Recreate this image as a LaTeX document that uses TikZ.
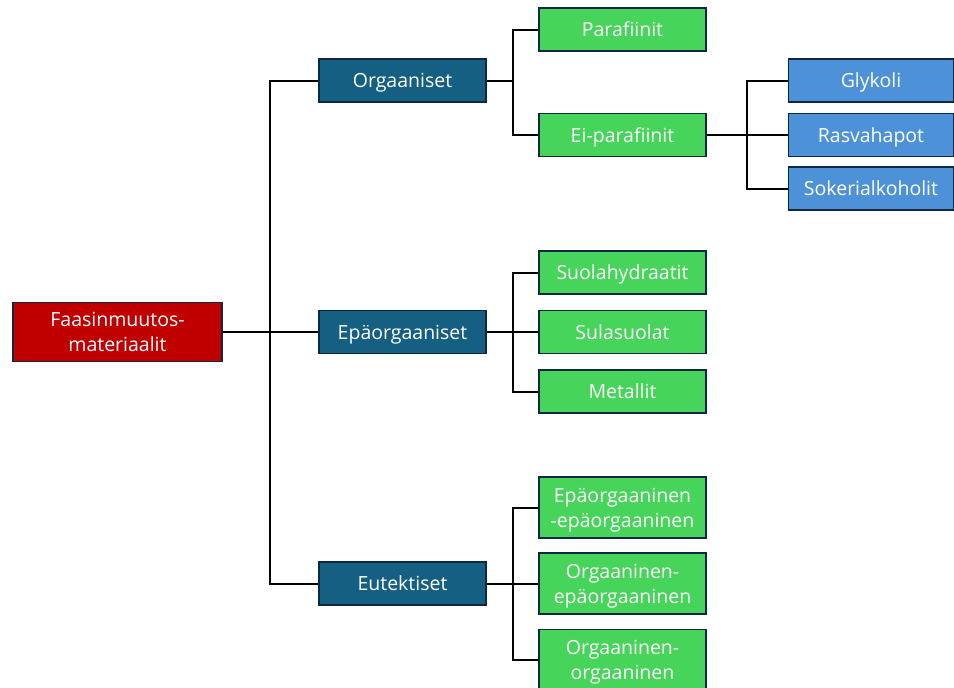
\documentclass[tikz,border=0pt]{standalone}
\usepackage{fontspec}
\setmainfont{Open Sans}
\definecolor{rootred}{HTML}{C00000}
\definecolor{teal1}{HTML}{156082}
\definecolor{green1}{HTML}{47D45A}
\definecolor{blue1}{HTML}{4D91D8}
\definecolor{edge1}{HTML}{0E2841}
\newcommand{\boxtxt}[1]{\raisebox{-2pt}[\height][\depth]{\begin{tabular}{@{}c@{}}#1\end{tabular}}}
\tikzset{
  box/.style={draw=edge1, line width=1.6pt, text=white, inner sep=0pt,
    font=\fontsize{19.5}{25}\selectfont},
  rootbox/.style={box, fill=rootred, minimum width=209pt, minimum height=59pt},
  lvone/.style={box, fill=teal1, minimum width=167pt, minimum height=43pt},
  lvtwo/.style={box, fill=green1, minimum width=167pt, minimum height=43pt},
  lvtwob/.style={box, fill=green1, minimum width=167pt, minimum height=61pt},
  lvthree/.style={box, fill=blue1, minimum width=165pt, minimum height=43pt},
  conn/.style={draw=black, line width=2pt}
}
\begin{document}
\begin{tikzpicture}[x=1pt,y=-1pt]
\useasboundingbox (0,0) rectangle (954,688);
\clip (0,0) rectangle (954,688);
% junction points
\coordinate (t1) at (270,332);
\coordinate (t2) at (513,80.5);
\coordinate (t3) at (513,332);
\coordinate (t4) at (513,583.5);
\coordinate (t5) at (747,135);
% nodes
\node[rootbox] (root) at (117.5,332) {\boxtxt{Faasinmuutos-\\materiaalit}};
\node[lvone] (org) at (402.5,80.5) {\boxtxt{Orgaaniset}};
\node[lvone] (epa) at (402.5,332) {\boxtxt{Epäorgaaniset}};
\node[lvone] (eut) at (402.5,583.5) {\boxtxt{Eutektiset}};
\node[lvtwo] (para) at (622.5,29.5) {\boxtxt{Parafiinit}};
\node[lvtwo] (eipara) at (622.5,135) {\boxtxt{Ei-parafiinit}};
\node[lvtwo] (suola) at (622.5,272.5) {\boxtxt{Suolahydraatit}};
\node[lvtwo] (sula) at (622.5,332) {\boxtxt{Sulasuolat}};
\node[lvtwo] (met) at (622.5,391.5) {\boxtxt{Metallit}};
\node[lvtwob] (ee) at (622.5,507.5) {\boxtxt{Epäorgaaninen\\-epäorgaaninen}};
\node[lvtwob] (oe) at (622.5,583.5) {\boxtxt{Orgaaninen-\\epäorgaaninen}};
\node[lvtwob] (oo) at (622.5,660) {\boxtxt{Orgaaninen-\\orgaaninen}};
\node[lvthree] (glyk) at (871,80.5) {\boxtxt{Glykoli}};
\node[lvthree] (rasva) at (871,135) {\boxtxt{Rasvahapot}};
\node[lvthree] (soker) at (871,188.5) {\boxtxt{Sokerialkoholit}};
% connectors
\draw[conn] (root.east) -- (epa.west);
\draw[conn] (org.west) -| (t1) |- (eut.west);
\draw[conn] (org.east) -- (t2);
\draw[conn] (para.west) -| (t2) |- (eipara.west);
\draw[conn] (epa.east) -- (sula.west);
\draw[conn] (suola.west) -| (t3) |- (met.west);
\draw[conn] (eut.east) -- (oe.west);
\draw[conn] (ee.west) -| (t4) |- (oo.west);
\draw[conn] (eipara.east) -- (rasva.west);
\draw[conn] (glyk.west) -| (t5) |- (soker.west);
\end{tikzpicture}
\end{document}
